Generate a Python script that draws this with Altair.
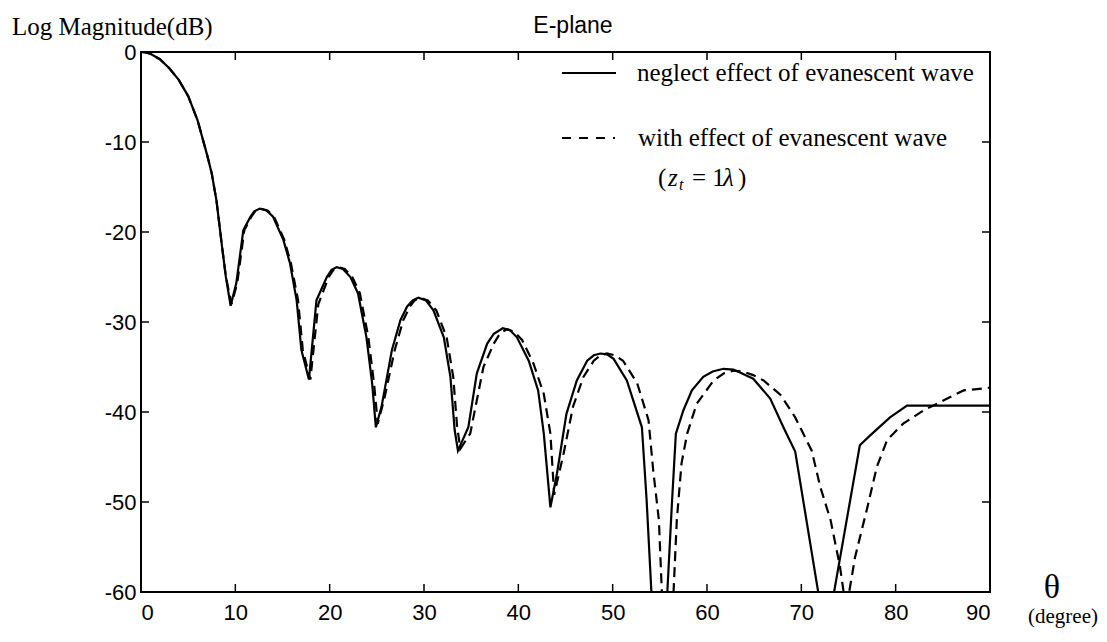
import altair as alt
import pandas as pd

# ---- data ----
solid_deg = [0, 0.5, 1.0, 2.0, 3.0, 4.0, 5.0, 6.0, 7.0, 7.5, 8.0, 8.6, 9.0,
             9.5, 10.1, 10.85, 11.6, 12.0, 12.6, 13.3, 14.0, 15.1, 15.8, 16.5, 17.0,
             17.8, 18.6, 19.7, 20.2, 20.75, 21.4, 22.2, 23.0, 23.9, 24.5, 24.9, 25.5,
             26.6, 27.5, 28.2, 28.8, 29.4, 30.2, 31.0, 32.1, 32.8, 33.25, 33.6, 34.7,
             35.6, 36.7, 37.4, 38.35, 39.1, 39.85, 41.1, 42.1, 42.7, 43.4, 44.1,
             45.1, 46.2, 47.3, 48.0, 48.7, 49.4, 50.1, 51.5, 53.1, 53.6, 54.95, 56.3,
             56.7, 57.5, 58.4, 59.6, 60.6, 61.75, 62.8, 63.5, 64.9, 66.7, 68.1, 69.35,
             72.6, 76.2, 77.3, 79.4, 81.2, 90]
solid_db = [0, -0.05, -0.2, -0.8, -1.8, -3.1, -4.9, -7.6, -11.4, -13.5, -16.5, -21.7, -25.0,
            -28.2, -25.7, -19.8, -18.3, -17.7, -17.4, -17.6, -18.3, -20.9, -23.5, -27.6, -33.1,
            -36.4, -27.6, -25.0, -24.2, -23.9, -24.1, -25.0, -26.8, -31.7, -36.8, -41.7, -39.4,
            -33.1, -29.8, -28.3, -27.6, -27.3, -27.6, -28.7, -31.7, -36.1, -42.0, -44.3, -41.7,
            -35.7, -32.4, -31.3, -30.7, -30.9, -31.7, -34.3, -37.6, -42.4, -50.6, -46.8,
            -40.2, -36.5, -34.3, -33.7, -33.5, -33.6, -34.1, -36.5, -41.7, -49.8, -77, -49.8,
            -42.4, -39.8, -37.6, -36.1, -35.5, -35.2, -35.3, -35.6, -36.3, -38.5, -41.7, -44.4,
            -65.2, -43.7, -42.6, -40.6, -39.3, -39.3]

dashed_deg = [0, 0.5, 1.0, 2.0, 3.0, 4.0, 5.0, 6.0, 7.0, 7.5, 8.0, 8.6, 9.0,
              9.6, 10.2, 10.95, 11.7, 12.1, 12.7, 13.4, 14.1, 15.2, 15.9, 16.65, 17.15,
              17.95, 18.8, 19.9, 20.4, 20.9, 21.6, 22.4, 23.2, 24.1, 24.7, 25.1, 25.8,
              26.9, 27.8, 28.5, 29.0, 29.6, 30.4, 31.3, 32.4, 33.1, 33.5, 33.85, 34.9,
              36.3, 37.4, 38.1, 38.8, 39.6, 40.4, 41.6, 42.7, 43.4, 43.8, 44.8, 45.8,
              46.9, 48.0, 48.7, 49.4, 50.2, 51.1, 52.6, 53.8, 54.3, 54.9, 55.8, 56.8,
              57.3, 57.9, 58.9, 60.7, 61.8, 62.8, 63.8, 64.9, 66.0, 67.8, 69.35, 71.1,
              72.0, 73.1, 74.1, 74.75, 75.7, 77.0, 78.0, 79.1, 80.8, 83.0,
              85.1, 87.2, 90]
dashed_db = [0, -0.05, -0.2, -0.8, -1.8, -3.1, -4.9, -7.6, -11.4, -13.5, -16.5, -21.7, -25.0,
             -28.0, -25.7, -19.8, -18.3, -17.7, -17.4, -17.6, -18.3, -20.9, -23.5, -27.6, -33.1,
             -36.4, -28.0, -25.0, -24.2, -23.9, -24.1, -25.0, -26.8, -31.7, -36.8, -41.3, -38.5,
             -33.1, -29.8, -28.3, -27.6, -27.3, -27.6, -28.7, -31.7, -36.1, -41.5, -44.1, -42.4,
             -35.0, -32.4, -31.2, -30.8, -31.1, -32.0, -34.6, -38.0, -42.4, -49.2, -44.6, -39.4,
             -36.1, -34.3, -33.7, -33.5, -33.7, -34.3, -36.8, -40.9, -46.5, -52.0, -75, -52.0,
             -45.7, -42.4, -39.1, -36.5, -35.7, -35.4, -35.5, -35.9, -36.5, -38.1, -40.6, -44.3,
             -48.3, -52.0, -57.2, -62, -56.1, -50.6, -46.1, -43.1, -41.3, -39.8,
             -38.7, -37.6, -37.3]

x_ticks = [0, 10, 20, 30, 40, 50, 60, 70, 80, 90]
y_ticks = [0, -10, -20, -30, -40, -50, -60]
x_inner_ticks = [10, 20, 30, 40, 50, 60, 70, 80]
y_inner_ticks = [-10, -20, -30, -40, -50]

legend_solid = "neglect effect of evanescent wave"
legend_dashed = "with effect of evanescent wave"
title_text = "E-plane"
ylabel_text = "Log Magnitude(dB)"
xlabel_sym = "θ"
xlabel_unit = "(degree)"

W, H = 849, 540
SERIF = "Liberation Serif"
SANS = "Liberation Sans"

solid_df = pd.DataFrame({"deg": solid_deg, "db": solid_db})
dashed_df = pd.DataFrame({"deg": dashed_deg, "db": dashed_db})
xt_df = pd.DataFrame({"deg": x_inner_ticks})
yt_df = pd.DataFrame({"db": y_inner_ticks})

xscale = alt.Scale(domain=[0, 90], nice=False, zero=False)
yscale = alt.Scale(domain=[-60, 0], nice=False, zero=False)

xaxis = alt.Axis(values=x_ticks, ticks=False, domain=False, grid=False, title=None,
                 labelFont=SANS, labelFontSize=22, labelColor="black", labelPadding=10,
                 labelExpr="'' + datum.value")
yaxis = alt.Axis(values=y_ticks, ticks=False, domain=False, grid=False, title=None,
                 labelFont=SANS, labelFontSize=22, labelColor="black", labelPadding=5,
                 labelExpr="'' + datum.value")

solid = alt.Chart(solid_df).mark_line(color="black", strokeWidth=2.2, clip=True,
                                      interpolate="linear").encode(
    x=alt.X("deg:Q", scale=xscale, axis=xaxis),
    y=alt.Y("db:Q", scale=yscale, axis=yaxis),
)
dashed = alt.Chart(dashed_df).mark_line(color="black", strokeWidth=2.2, clip=True,
                                        strokeDash=[10, 6]).encode(
    x=alt.X("deg:Q", scale=xscale),
    y=alt.Y("db:Q", scale=yscale),
)

TL = 8
tick_bottom = alt.Chart(xt_df).mark_rule(color="black", strokeWidth=1.5).encode(
    x=alt.X("deg:Q", scale=xscale), y=alt.value(H), y2=alt.value(H - TL))
tick_top = alt.Chart(xt_df).mark_rule(color="black", strokeWidth=1.5).encode(
    x=alt.X("deg:Q", scale=xscale), y=alt.value(0), y2=alt.value(TL))
tick_left = alt.Chart(yt_df).mark_rule(color="black", strokeWidth=1.5).encode(
    y=alt.Y("db:Q", scale=yscale), x=alt.value(0), x2=alt.value(TL))
tick_right = alt.Chart(yt_df).mark_rule(color="black", strokeWidth=1.5).encode(
    y=alt.Y("db:Q", scale=yscale), x=alt.value(W), x2=alt.value(W - TL))


def text_layer(txt, x, y, font=SERIF, size=25, align="left", style="normal", baseline="middle"):
    return alt.Chart(pd.DataFrame({"t": [txt]})).mark_text(
        font=font, fontSize=size, align=align, baseline=baseline, fontStyle=style,
        color="black").encode(text="t:N", x=alt.value(x), y=alt.value(y))


one = pd.DataFrame({"k": [0]})
leg_solid_line = alt.Chart(one).mark_rule(color="black", strokeWidth=2).encode(
    x=alt.value(421), x2=alt.value(475), y=alt.value(21))
leg_dashed_line = alt.Chart(one).mark_rule(color="black", strokeWidth=2, strokeDash=[9, 8]).encode(
    x=alt.value(421), x2=alt.value(474), y=alt.value(86))

texts = [
    text_layer(title_text, 432, -26, font=SANS, size=23, align="center"),
    text_layer(ylabel_text, -129, -25, size=25),
    text_layer(legend_solid, 496, 21),
    text_layer(legend_dashed, 497, 86),
    text_layer("(", 517, 126),
    text_layer("z", 527, 126, style="italic"),
    text_layer("t", 538, 133, size=16, style="italic"),
    text_layer("= 1", 551, 126),
    text_layer("λ", 582, 126, style="italic"),
    text_layer(")", 597, 126),
    text_layer(xlabel_sym, 911, 536, size=34, align="center"),
    text_layer(xlabel_unit, 957, 565, size=21, align="right"),
]

chart = alt.layer(
    solid, dashed, tick_bottom, tick_top, tick_left, tick_right,
    leg_solid_line, leg_dashed_line, *texts
).properties(
    width=W, height=H,
    autosize=alt.AutoSizeParams(type="none"),
    padding={"left": 133, "top": 44, "right": 109, "bottom": 42},
    background="white",
).configure_view(stroke="black", strokeWidth=2)

chart.save("out.html", embed_options={"renderer": "svg", "actions": False})
